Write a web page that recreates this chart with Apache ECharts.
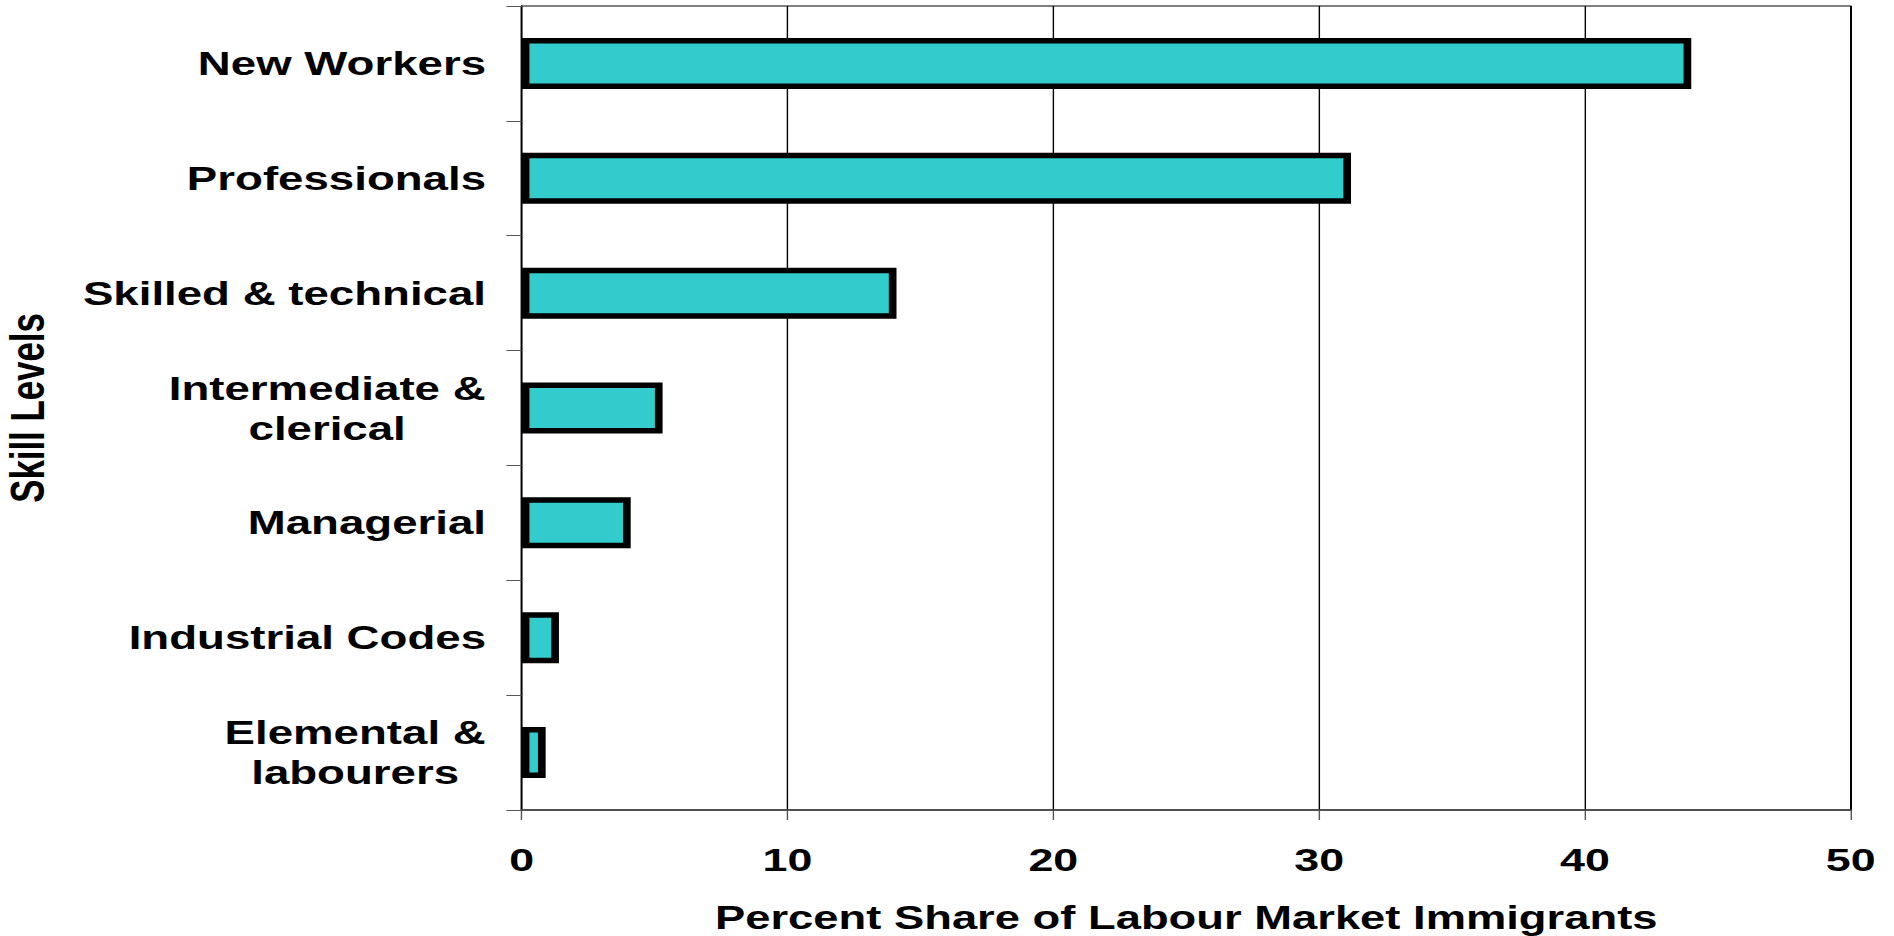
<!DOCTYPE html>
<html>
<head>
<meta charset="utf-8">
<script src="https://cdn.jsdelivr.net/npm/echarts@6/dist/echarts.min.js"></script>
<style>
  html, body { margin: 0; padding: 0; background: #ffffff; overflow: hidden; }
  #wrap { width: 1894px; height: 936px; overflow: hidden; }
  #chart { width: 1353px; height: 936px; transform: scaleX(1.39985); transform-origin: 0 0; }
</style>
</head>
<body>
<div id="wrap"><div id="chart"></div></div>
<script>
// ---- data ----
const categories = [
  'New Workers',
  'Professionals',
  'Skilled & technical',
  'Intermediate &\nclerical',
  'Managerial',
  'Industrial Codes',
  'Elemental &\nlabourers'
];
const shares = [44.0, 31.2, 14.1, 5.3, 4.1, 1.4, 0.9];
const xTicks = [0, 10, 20, 30, 40, 50];
const xAxisTitle = 'Percent Share of Labour Market Immigrants';
const yAxisTitle = 'Skill Levels';

const FONT = '"Liberation Sans", Arial, Helvetica, sans-serif';
const FS = 32.6;

const cv = document.createElement('canvas').getContext('2d');
cv.font = 'bold ' + FS + 'px ' + FONT;
function tw(s) { return Math.ceil(cv.measureText(s).width); }

const rich = {};
categories.forEach((c, i) => {
  if (c.indexOf('\n') >= 0) {
    const w = Math.max.apply(null, c.split('\n').map(tw));
    rich['c' + i] = { width: w, align: 'center', fontSize: FS, fontWeight: 'bold', fontFamily: FONT, color: '#000', lineHeight: 40 };
  }
});

const chart = echarts.init(document.getElementById('chart'), null, { renderer: 'svg' });
chart.setOption({
  backgroundColor: '#ffffff',
  animation: false,
  grid: {
    left: 372.7, right: 30.9, top: 6, bottom: 126,
    outerBoundsMode: 'none',
    containLabel: false,
    show: true, borderColor: '#000', borderWidth: 1, backgroundColor: 'transparent'
  },
  xAxis: {
    type: 'value',
    min: xTicks[0], max: xTicks[xTicks.length - 1], interval: 10,
    name: xAxisTitle,
    nameLocation: 'middle',
    nameGap: 91,
    nameTextStyle: { fontSize: 32.4, fontWeight: 'bold', fontFamily: FONT, color: '#000' },
    axisLine: { show: true, lineStyle: { color: '#404040', width: 1.5 } },
    axisTick: { show: true, length: 10, lineStyle: { color: '#555', width: 1 } },
    axisLabel: { margin: 34, fontSize: 32, fontWeight: 'bold', fontFamily: FONT, color: '#000' },
    splitLine: { show: true, lineStyle: { color: '#000', width: 1 } }
  },
  yAxis: {
    type: 'category',
    data: categories,
    inverse: true,
    name: yAxisTitle,
    nameLocation: 'middle',
    nameGap: 336,
    nameRotate: 90,
    nameTextStyle: { fontSize: 34.8, fontWeight: 'bold', fontFamily: FONT, color: '#000' },
    axisLine: { show: true, lineStyle: { color: '#000', width: 1 } },
    axisTick: { show: true, length: 11, lineStyle: { color: '#555', width: 1 } },
    axisLabel: {
      margin: 25.5,
      fontSize: FS, fontWeight: 'bold', fontFamily: FONT, color: '#000',
      lineHeight: 40,
      rich: rich,
      formatter: function (v, i) {
        if (v.indexOf('\n') >= 0) {
          return v.split('\n').map(l => '{c' + i + '|' + l + '}').join('\n');
        }
        return v;
      }
    },
    splitLine: { show: false }
  },
  series: [{
    type: 'bar',
    data: shares,
    barWidth: 51,
    itemStyle: { color: '#33CCCC', borderColor: '#000', borderWidth: 5.5 },
    z: 3
  }]
});
</script>
</body>
</html>
